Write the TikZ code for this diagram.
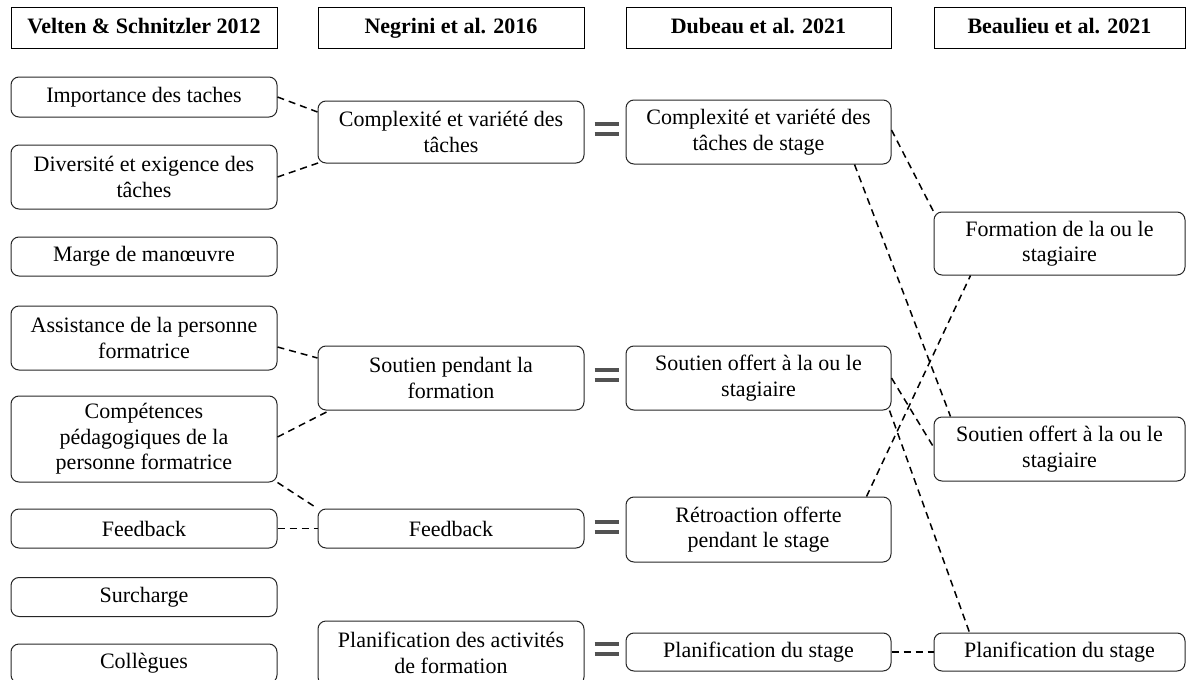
\documentclass[tikz,border=0pt]{standalone}
\usepackage{fontspec}
\setmainfont{Liberation Serif}
\usetikzlibrary{calc}
\newcommand{\txtsize}{\fontsize{22pt}{25.5pt}\selectfont}
\tikzset{
  head/.style={draw=black, line width=1pt, inner sep=0pt, font=\bfseries\txtsize,
    minimum height=41pt, text height=15pt, text depth=4pt},
  box/.style={draw=black!85, line width=1pt, rounded corners=8pt, inner sep=0pt,
    align=center, font=\txtsize},
  link/.style={line width=1.5pt, dash pattern=on 7pt off 5pt},
  eqbar/.style={line width=4pt, draw=black!68},
}
\begin{document}
\begin{tikzpicture}[x=1pt, y=-1pt]
\useasboundingbox (0,0) rectangle (1195,680);
\clip (0,0) rectangle (1195,680);

% column headers
\node[head, minimum width=266pt] (h1) at (144,27.5) {Velten \& Schnitzler 2012};
\node[head, minimum width=266pt] (h2) at (451,27.5) {Negrini et al. 2016};
\node[head, minimum width=265pt] (h3) at (758.5,27.5) {Dubeau et al. 2021};
\node[head, minimum width=251pt] (h4) at (1059.5,27.5) {Beaulieu et al. 2021};

% Velten & Schnitzler 2012
\node[box, minimum width=266pt, minimum height=40pt] (v1) at (144,97) {Importance des taches};
\node[box, minimum width=266pt, minimum height=64pt] (v2) at (144,177) {Diversité et exigence des\\tâches};
\node[box, minimum width=266pt, minimum height=39pt] (v3) at (144,256.5) {Marge de manœuvre};
\node[box, minimum width=266pt, minimum height=64pt] (v4) at (144,338) {Assistance de la personne\\formatrice};
\node[box, minimum width=266pt, minimum height=86pt] (v5) at (144,439) {Compétences\\pédagogiques de la\\personne formatrice};
\node[box, minimum width=266pt, minimum height=39pt] (v6) at (144,528.5) {Feedback};
\node[box, minimum width=266pt, minimum height=39pt] (v7) at (144,597) {Surcharge};
\node[box, minimum width=266pt, minimum height=39pt] (v8) at (144,663.5) {Collègues};

% Negrini et al. 2016
\node[box, minimum width=266pt, minimum height=62pt] (n1) at (451,132) {Complexité et variété des\\tâches};
\node[box, minimum width=266pt, minimum height=64pt] (n2) at (451,378) {Soutien pendant la\\formation};
\node[box, minimum width=266pt, minimum height=39pt] (n3) at (451,528.5) {Feedback};
\node[box, minimum width=266pt, minimum height=64pt] (n4) at (451,653) {Planification des activités\\de formation};

% Dubeau et al. 2021
\node[box, minimum width=265pt, minimum height=64pt] (d1) at (758.5,132) {Complexité et variété des\\tâches de stage};
\node[box, minimum width=265pt, minimum height=64pt] (d2) at (758.5,378) {Soutien offert à la ou le\\stagiaire};
\node[box, minimum width=265pt, minimum height=65pt] (d3) at (758.5,529.5) {Rétroaction offerte\\pendant le stage};
\node[box, minimum width=265pt, minimum height=38pt] (d4) at (758.5,652) {Planification du stage};

% Beaulieu et al. 2021
\node[box, minimum width=251pt, minimum height=63pt] (b1) at (1059.5,243.5) {Formation de la ou le\\stagiaire};
\node[box, minimum width=251pt, minimum height=64pt] (b2) at (1059.5,449) {Soutien offert à la ou le\\stagiaire};
\node[box, minimum width=251pt, minimum height=38pt] (b3) at (1059.5,652) {Planification du stage};

% equivalences between Negrini and Dubeau
\foreach \a/\b in {n1/d1, n2/d2, n3/d3, n4/d4}{
  \draw[eqbar] ([xshift=10pt,yshift=8pt]\b.west -| \a.east) -- ([xshift=-7pt,yshift=8pt]\b.west);
  \draw[eqbar] ([xshift=10pt,yshift=-2pt]\b.west -| \a.east) -- ([xshift=-7pt,yshift=-2pt]\b.west);
}

% dashed correspondences
\draw[link] (v1.east) -- ([yshift=20pt]n1.west);
\draw[link] (v2.east) -- ([xshift=2pt,yshift=1pt]n1.south west);
\draw[link] ([yshift=-9pt]v4.east) -- ([yshift=20pt]n2.west);
\draw[link] ([yshift=2pt]v5.east) -- ([xshift=12pt]n2.south west);
\draw[link] (v5.south east) -- (n3.north west);
\draw[link] (v6.east) -- (n3.west);

\draw[link] ([yshift=2pt]d1.east) -- (b1.north west);
\draw[link] ([xshift=-37pt]d1.south east) -- ([xshift=17pt]b2.north west);
\draw[link] (d2.east) -- ([yshift=2pt]b2.west);
\draw[link] ([xshift=-2pt]d2.south east) -- ([xshift=36pt]b3.north west);
\draw[link] ([xshift=-25pt]d3.north east) -- ([xshift=37pt]b1.south west);
\draw[link] (d4.east) -- (b3.west);
\end{tikzpicture}
\end{document}
